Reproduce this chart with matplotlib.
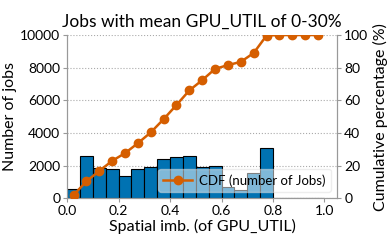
import matplotlib
matplotlib.use("Agg")
import matplotlib.pyplot as plt
import numpy as np

plt.rcParams['font.family'] = ['Lato', 'DejaVu Sans']

# histogram bins (width 0.05) and job counts
bin_edges = [i * 0.05 for i in range(21)]
job_counts = [600, 2580, 1850, 1800, 1400, 1800, 1950, 2400, 2530, 2600,
              1900, 2000, 700, 500, 1570, 3100, 40, 30, 10, 0]

# CDF points at bin centres (percent)
cdf_x = [0.025 + i * 0.05 for i in range(20)]
cdf_pct = [2.0, 10.5, 16.8, 23.0, 27.7, 33.8, 40.4, 48.5, 57.2, 66.1,
           72.4, 79.3, 81.6, 83.6, 89.0, 99.7, 100, 100, 100, 100]

blue = '#0072b2'
orange = '#d55e00'
spine_c = '#999999'

fig, ax = plt.subplots(figsize=(3.9, 2.45), dpi=100)
fig.subplots_adjust(left=0.172, right=0.865, top=0.857, bottom=0.19)

ax.bar(bin_edges[:-1], job_counts, width=0.05, align='edge',
       color=blue, edgecolor='black', linewidth=0.8, zorder=2)
ax.set_xlim(0, 1.05)
ax.set_ylim(0, 10000)
ax.set_yticks([0, 2000, 4000, 6000, 8000, 10000])
ax.set_xticks([0, 0.2, 0.4, 0.6, 0.8, 1.0])
ax.grid(True, axis='y', linestyle=':', color='#aaaaaa', linewidth=0.8, zorder=0)
ax.set_axisbelow(True)
ax.set_xlabel('Spatial imb. (of GPU_UTIL)', fontsize=11.5, labelpad=1)
ax.set_ylabel('Number of jobs', fontsize=11.5, labelpad=2)
ax.set_title('Jobs with mean GPU_UTIL of 0-30%', fontsize=12.5, pad=6)

ax2 = ax.twinx()
ax2.plot(cdf_x, cdf_pct, color=orange, marker='o', markersize=6,
         linewidth=1.8, label='CDF (number of Jobs)', zorder=3)
ax2.set_ylim(0, 100)
ax2.set_yticks([0, 20, 40, 60, 80, 100])
ax2.set_ylabel('Cumulative percentage (%)', fontsize=11.5, labelpad=3)

for a in (ax, ax2):
    a.spines['top'].set_visible(False)
    for s in ('left', 'right', 'bottom'):
        a.spines[s].set_color(spine_c)
    a.tick_params(labelsize=10, length=3, color=spine_c, pad=2)

leg = ax2.legend(loc='lower right', fontsize=9.5, framealpha=0.5,
                 borderaxespad=0.5, handlelength=2.2, handletextpad=0.5)
leg.get_frame().set_edgecolor('#dddddd')

fig.savefig('out.png', dpi=100)
